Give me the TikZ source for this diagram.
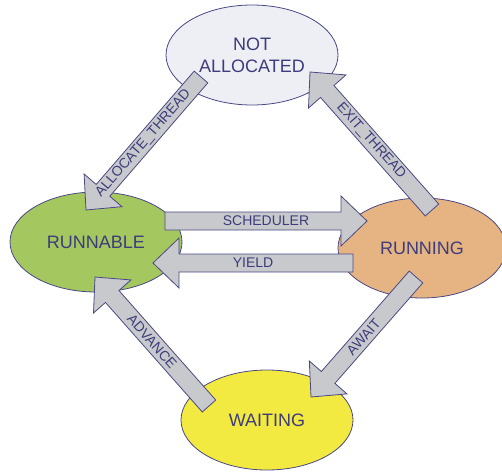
\documentclass[tikz,border=0pt]{standalone}
\usepackage{fontspec}
\setmainfont{Liberation Sans}
\usetikzlibrary{shapes.geometric, calc}

\definecolor{ink}{HTML}{3D3C7C}
\definecolor{rim}{HTML}{4A4985}
\definecolor{idlefill}{HTML}{EEEEF5}
\definecolor{readyfill}{HTML}{A4C760}
\definecolor{runfill}{HTML}{E6B483}
\definecolor{waitfill}{HTML}{F2E941}
\definecolor{shaftgray}{HTML}{C8C9CC}

% block arrow from #1 to #2 with the label #3 written along it
\newcommand{\transarrow}[3]{%
\path[draw=rim, fill=shaftgray, line width=0.8pt, line join=miter]
  let \p1=(#1), \p2=(#2), \n1={atan2(\y2-\y1,\x2-\x1)}, \n2={veclen(\x2-\x1,\y2-\y1)} in
  {[shift={(\p1)}, rotate=\n1] (0,-9) -- (\n2-26,-9) -- (\n2-26,-25) -- (\n2,0)
   -- (\n2-26,25) -- (\n2-26,9) -- (0,9) -- cycle};
\path (#1) -- (#2) node[midway, sloped, font=\fontsize{14}{16}\selectfont] {#3};
}

\begin{document}
\begin{tikzpicture}[x=1pt, y=-1pt, every node/.style={text=ink, font=\fontsize{18}{22}\selectfont}]
\tikzstyle{state}=[ellipse, draw=rim, line width=0.8pt, minimum width=172pt, minimum height=100pt, inner sep=0pt, align=center]

\useasboundingbox (0,0) rectangle (502,471);

\node (notalloc) [state, fill=idlefill] at (252,55) {NOT\\ALLOCATED};
\node (runnable) [state, fill=readyfill] at (96,242) {RUNNABLE};
\node (running) [state, fill=runfill, minimum width=168pt] at (422,248) {RUNNING};
\node (waiting) [state, fill=waitfill] at (267,420) {WAITING};

\coordinate (alloc-s) at ([shift={(-51,22)}]notalloc.center);
\coordinate (alloc-e) at ([shift={(-10,-32)}]runnable.center);
\coordinate (sched-s) at ([shift={(69,-21)}]runnable.center);
\coordinate (sched-e) at ([shift={(-55,-27)}]running.center);
\coordinate (yield-s) at ([shift={(-69,15)}]running.center);
\coordinate (yield-e) at ([shift={(57,21)}]runnable.center);
\coordinate (exit-s) at ([shift={(10,-38)}]running.center);
\coordinate (exit-e) at ([shift={(58,17)}]notalloc.center);
\coordinate (await-s) at ([shift={(-6,29)}]running.center);
\coordinate (await-e) at ([shift={(44,-23)}]waiting.center);
\coordinate (adv-s) at ([shift={(-58,-14)}]waiting.center);
\coordinate (adv-e) at ([shift={(-1,35)}]runnable.center);

\transarrow{alloc-s}{alloc-e}{ALLOCATE\_THREAD}
\transarrow{sched-s}{sched-e}{SCHEDULER}
\transarrow{yield-s}{yield-e}{YIELD}
\transarrow{exit-s}{exit-e}{EXIT\_THREAD}
\transarrow{await-s}{await-e}{AWAIT}
\transarrow{adv-s}{adv-e}{ADVANCE}

\end{tikzpicture}
\end{document}
